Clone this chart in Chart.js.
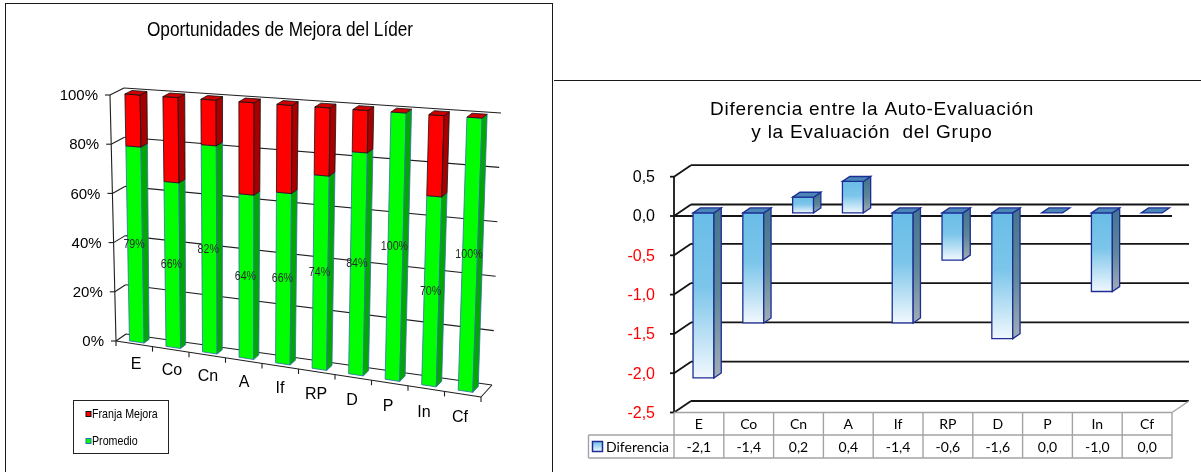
<!DOCTYPE html>
<html>
<head>
<meta charset="utf-8">
<script src="https://cdn.jsdelivr.net/npm/chart.js@4.4.1/dist/chart.umd.min.js"></script>
<style>
  html, body { margin: 0; padding: 0; background: #ffffff; width: 1201px; height: 472px; overflow: hidden; }
  #frameL { position: absolute; left: 5px; top: 3px; width: 548px; height: 520px; border: 1px solid #1a1a1a; box-sizing: border-box; }
  #frameR { position: absolute; left: 554px; top: 80px; width: 647px; height: 0; border-top: 1px solid #1a1a1a; }
  #cL { position: absolute; left: 0; top: 0; }
  #cR { position: absolute; left: 555px; top: 0; }
</style>
</head>
<body>
<div id="frameL"></div>
<div id="frameR"></div>
<canvas id="cL" width="554" height="472" style="width:554px;height:472px"></canvas>
<canvas id="cR" width="646" height="472" style="width:646px;height:472px"></canvas>
<script>
// ---- data ----
const categories = ['E', 'Co', 'Cn', 'A', 'If', 'RP', 'D', 'P', 'In', 'Cf'];
const promedio = [79, 66, 82, 64, 66, 74, 84, 100, 70, 100];
const franjaMejora = [21, 34, 18, 36, 34, 26, 16, 0, 30, 0];
const percentTicks = [0, 20, 40, 60, 80, 100];
const diferencia = [-2.1, -1.4, 0.2, 0.4, -1.4, -0.6, -1.6, 0.0, -1.0, 0.0];
const diferenciaTicks = [0.5, 0.0, -0.5, -1.0, -1.5, -2.0, -2.5];

// ---- fonts ----
const ARIAL = "'Liberation Sans',Arial,sans-serif";
const TABLE_FONT = "Lato,'Open Sans',sans-serif";

function strokeLine(ctx, p, q) {
  ctx.beginPath();
  ctx.moveTo(p[0], p[1]);
  ctx.lineTo(q[0], q[1]);
  ctx.stroke();
}
function poly(ctx, pts, fill, stroke, lw) {
  ctx.beginPath();
  ctx.moveTo(pts[0][0], pts[0][1]);
  for (let i = 1; i < pts.length; i++) ctx.lineTo(pts[i][0], pts[i][1]);
  ctx.closePath();
  ctx.fillStyle = fill;
  ctx.fill();
  if (stroke) { ctx.lineWidth = lw; ctx.strokeStyle = stroke; ctx.stroke(); }
}
// condensed sans text: horizontally compressed Liberation Sans
function narrowText(ctx, text, x, y, size, align) {
  ctx.save();
  ctx.translate(x, y);
  ctx.scale(0.82, 1);
  ctx.font = size + 'px ' + ARIAL;
  ctx.textAlign = align;
  ctx.fillText(text, 0, 0);
  ctx.restore();
}
const fmtComma = v => v.toFixed(1).replace('.', ',');

// ============ Left chart: 3D stacked percentage columns ============
// Perspective frame: front plane and back wall corners (u: category axis, v: value axis)
const frontQuad = { l0: [116, 341], l1: [110, 95], r0: [481, 397], r1: [491, 121] };
const backQuad  = { l0: [126, 334], l1: [124, 88], r0: [492, 385], r1: [501, 113] };
function project(u, v, d) {
  const c = k => [frontQuad[k][0] + (backQuad[k][0] - frontQuad[k][0]) * d,
                  frontQuad[k][1] + (backQuad[k][1] - frontQuad[k][1]) * d];
  const l0 = c('l0'), l1 = c('l1'), r0 = c('r0'), r1 = c('r1');
  const bx = l0[0] + (r0[0] - l0[0]) * u, by = l0[1] + (r0[1] - l0[1]) * u;
  const tx = l1[0] + (r1[0] - l1[0]) * u, ty = l1[1] + (r1[1] - l1[1]) * u;
  return [bx + (tx - bx) * v, by + (ty - by) * v];
}
const BAR_FRONT = 0.25, BAR_BACK = 0.75;

const shadesL = {
  Promedio: { front: '#00ff00', side: '#00a800', top: '#00d400', edge: '#2f6fae' },
  'Franja Mejora': { front: '#ff0000', side: '#a80000', top: '#d00000', edge: '#111111' }
};

const leftPerspective = {
  id: 'leftPerspective',
  beforeDatasetsDraw() { return false; },
  afterDraw(chart) {
    const ctx = chart.ctx, a = chart.chartArea, ys = chart.scales.y;
    const U = px => (px - a.left) / (a.right - a.left);
    const V = py => (a.bottom - py) / (a.bottom - a.top);
    ctx.save();

    // title
    ctx.fillStyle = '#000';
    ctx.textBaseline = 'middle';
    narrowText(ctx, 'Oportunidades de Mejora del Líder', 280, 30, 21, 'center');

    // walls, gridlines, value axis
    ctx.strokeStyle = '#1e1e1e';
    ctx.lineWidth = 1.1;
    percentTicks.forEach(t => {
      const v = V(ys.getPixelForValue(t));
      strokeLine(ctx, project(0, v, 0), project(0, v, 1));
      strokeLine(ctx, project(0, v, 1), project(1, v, 1));
      const p = project(0, v, 0);
      strokeLine(ctx, [p[0] - 5, p[1]], p);
    });
    strokeLine(ctx, project(0, 0, 0), project(0, 1, 0));
    strokeLine(ctx, project(0, 0, 0), project(1, 0, 0));
    strokeLine(ctx, project(1, 0, 0), project(1, 0, 1));
    for (let k = 0; k <= categories.length; k++) {
      const p = project(k / categories.length, 0, 0);
      strokeLine(ctx, p, [p[0], p[1] + 5]);
    }

    // columns
    const metas = chart.data.datasets.map((ds, i) => chart.getDatasetMeta(i));
    categories.forEach((c, i) => {
      metas.forEach((meta, di) => {
        const ds = chart.data.datasets[di];
        const col = shadesL[ds.label];
        const el = meta.data[i].getProps(['x', 'y', 'base', 'width'], true);
        const u0 = U(el.x - el.width / 2), u1 = U(el.x + el.width / 2);
        const v0 = V(el.base), v1 = V(el.y);
        const isTop = di === metas.length - 1;
        if (v1 - v0 > 1e-6) {
          poly(ctx, [project(u0, v0, BAR_FRONT), project(u1, v0, BAR_FRONT), project(u1, v1, BAR_FRONT), project(u0, v1, BAR_FRONT)], col.front, col.edge, 0.8);
          poly(ctx, [project(u1, v0, BAR_FRONT), project(u1, v0, BAR_BACK), project(u1, v1, BAR_BACK), project(u1, v1, BAR_FRONT)], col.side, col.edge, 0.8);
        }
        if (isTop) {
          poly(ctx, [project(u0, v1, BAR_FRONT), project(u1, v1, BAR_FRONT), project(u1, v1, BAR_BACK), project(u0, v1, BAR_BACK)], col.top, col.edge, 0.8);
        }
      });
    });

    // value labels on the Promedio segment
    ctx.fillStyle = '#2a2a2a';
    ctx.textBaseline = 'middle';
    metas[0].data.forEach((bar, i) => {
      const el = bar.getProps(['x', 'y', 'base'], true);
      const p = project(U(el.x), (V(el.base) + V(el.y)) / 2, BAR_FRONT);
      narrowText(ctx, promedio[i] + '%', p[0] - 1, p[1], 13, 'center');
    });

    // value axis labels
    ctx.font = '15px ' + ARIAL;
    ctx.fillStyle = '#000';
    ctx.textAlign = 'right';
    percentTicks.forEach(t => {
      const p = project(0, V(ys.getPixelForValue(t)), 0);
      ctx.fillText(t + '%', p[0] - 12, p[1] + 1);
    });

    // category labels
    ctx.font = '16px ' + ARIAL;
    ctx.textAlign = 'center';
    const xs = chart.scales.x;
    categories.forEach((c, i) => {
      const u = U(xs.getPixelForValue(i));
      const p = project(u, 0, 0);
      ctx.fillText(c, p[0] + 2 - 5 * u, p[1] + 21 + 3 * u);
    });

    // legend box
    ctx.strokeStyle = '#222';
    ctx.lineWidth = 1;
    ctx.strokeRect(73.5, 400.5, 95, 53);
    const order = chart.data.datasets.slice().reverse();
    order.forEach((ds, k) => {
      const y = 414.5 + k * 27;
      const col = shadesL[ds.label];
      ctx.fillStyle = col.front;
      ctx.fillRect(86, y - 3, 5, 5);
      ctx.strokeStyle = col.edge;
      ctx.strokeRect(86, y - 3, 5, 5);
      ctx.fillStyle = '#000';
      narrowText(ctx, ds.label, 92, y, 13, 'left');
    });
    ctx.restore();
  }
};

new Chart(document.getElementById('cL'), {
  type: 'bar',
  data: {
    labels: categories,
    datasets: [
      { label: 'Promedio', data: promedio, backgroundColor: '#00ff00', borderColor: '#2f6fae', stack: 'lider', barPercentage: 0.4, categoryPercentage: 1 },
      { label: 'Franja Mejora', data: franjaMejora, backgroundColor: '#ff0000', borderColor: '#111111', stack: 'lider', barPercentage: 0.4, categoryPercentage: 1 }
    ]
  },
  options: {
    responsive: false,
    animation: false,
    events: [],
    layout: { padding: { left: 120, right: 60, top: 90, bottom: 110 } },
    plugins: { legend: { display: false }, title: { display: false }, tooltip: { enabled: false } },
    scales: {
      x: { stacked: true, display: false },
      y: { stacked: true, display: false, min: 0, max: 100 }
    }
  },
  plugins: [leftPerspective]
});

// ============ Right chart: 3D columns with data table ============
const DEPTH_X = 17, DEPTH_Y = -11.5;
const oblique = (x, y, d) => [x + DEPTH_X * d, y + DEPTH_Y * d];
const COL_FRONT = 0.27, COL_BACK = 0.7;

const rightOblique = {
  id: 'rightOblique',
  beforeDatasetsDraw() { return false; },
  afterDraw(chart) {
    const ctx = chart.ctx, a = chart.chartArea, ys = chart.scales.y, xs = chart.scales.x;
    ctx.save();

    // title
    ctx.fillStyle = '#000';
    ctx.font = '19px ' + ARIAL;
    ctx.textAlign = 'center';
    ctx.textBaseline = 'middle';
    if ('letterSpacing' in ctx) ctx.letterSpacing = '0.75px';
    ctx.fillText('Diferencia entre la Auto-Evaluación', 317, 110);
    ctx.fillText('y la Evaluación  del Grupo', 317, 133);
    if ('letterSpacing' in ctx) ctx.letterSpacing = '0px';

    // walls and gridlines
    ctx.strokeStyle = '#141414';
    ctx.lineWidth = 1.8;
    diferenciaTicks.forEach(t => {
      const y = ys.getPixelForValue(t);
      strokeLine(ctx, oblique(a.left, y, 0), oblique(a.left, y, 1));
      strokeLine(ctx, oblique(a.left, y, 1), oblique(a.right, y, 1));
      strokeLine(ctx, [a.left - 4, y], [a.left, y]);
    });
    strokeLine(ctx, [a.left, a.top], [a.left, a.bottom]);
    const y0 = ys.getPixelForValue(0);
    strokeLine(ctx, [a.left, y0], [a.right, y0]);

    // columns
    const meta = chart.getDatasetMeta(0);
    const edge = '#1c2e95';
    meta.data.forEach(bar => {
      const el = bar.getProps(['x', 'y', 'base', 'width'], true);
      const l = el.x - el.width / 2, r = el.x + el.width / 2;
      const top = Math.min(el.y, el.base), bot = Math.max(el.y, el.base);
      if (bot - top > 0.5) {
        const fTop = oblique(l, top, COL_FRONT), fBot = oblique(l, bot, COL_FRONT);
        const gf = ctx.createLinearGradient(0, fTop[1], 0, fBot[1]);
        gf.addColorStop(0, '#69bde7');
        gf.addColorStop(0.45, '#7cc5ea');
        gf.addColorStop(1, '#f1f8fd');
        poly(ctx, [oblique(l, top, COL_FRONT), oblique(r, top, COL_FRONT), oblique(r, bot, COL_FRONT), oblique(l, bot, COL_FRONT)], gf, edge, 1.3);
        const gs = ctx.createLinearGradient(0, fTop[1], 0, fBot[1]);
        gs.addColorStop(0, '#46778f');
        gs.addColorStop(0.5, '#5f8799');
        gs.addColorStop(1, '#a2adb7');
        poly(ctx, [oblique(r, top, COL_FRONT), oblique(r, top, COL_BACK), oblique(r, bot, COL_BACK), oblique(r, bot, COL_FRONT)], gs, edge, 1.3);
      }
      poly(ctx, [oblique(l, top, COL_FRONT), oblique(r, top, COL_FRONT), oblique(r, top, COL_BACK), oblique(l, top, COL_BACK)], '#4a86b6', edge, 1.3);
    });

    // value axis labels
    ctx.font = '16px ' + ARIAL;
    ctx.textAlign = 'right';
    diferenciaTicks.forEach(t => {
      ctx.fillStyle = t < 0 ? '#ff0000' : '#000000';
      ctx.fillText(fmtComma(t), a.left - 19, ys.getPixelForValue(t) + 1);
    });

    // data table under the plot
    const slot = (a.right - a.left) / categories.length;
    const rowTop = a.bottom, rowMid = rowTop + 22.5, rowBot = rowMid + 23;
    const keyLeft = 33.5;
    ctx.strokeStyle = '#a3a3a3';
    ctx.lineWidth = 1.4;
    strokeLine(ctx, [a.left, rowTop], [a.right, rowTop]);
    strokeLine(ctx, oblique(a.right, rowTop, 0), oblique(a.right, rowTop, 1));
    strokeLine(ctx, [keyLeft, rowMid], [a.right, rowMid]);
    strokeLine(ctx, [keyLeft, rowBot], [a.right, rowBot]);
    strokeLine(ctx, [keyLeft, rowMid], [keyLeft, rowBot]);
    for (let k = 0; k <= categories.length; k++) {
      const x = a.left + k * slot;
      strokeLine(ctx, [x, rowTop], [x, rowBot]);
    }
    ctx.font = '14px ' + TABLE_FONT;
    ctx.fillStyle = '#000';
    ctx.textAlign = 'center';
    categories.forEach((c, i) => {
      const cx = xs.getPixelForValue(i);
      ctx.fillText(c, cx, (rowTop + rowMid) / 2 + 1);
      ctx.fillText(fmtComma(diferencia[i]), cx, (rowMid + rowBot) / 2 + 1);
    });
    // series key
    const kg = ctx.createLinearGradient(0, rowMid + 6, 0, rowMid + 16);
    kg.addColorStop(0, '#69bde7');
    kg.addColorStop(1, '#e8f4fc');
    ctx.fillStyle = kg;
    ctx.fillRect(37.5, rowMid + 6.5, 10, 10);
    ctx.strokeStyle = edge;
    ctx.lineWidth = 1.5;
    ctx.strokeRect(37.5, rowMid + 6.5, 10, 10);
    ctx.fillStyle = '#000';
    ctx.textAlign = 'left';
    ctx.fillText(chart.data.datasets[0].label, 51, (rowMid + rowBot) / 2 + 1);
    ctx.restore();
  }
};

new Chart(document.getElementById('cR'), {
  type: 'bar',
  data: {
    labels: categories,
    datasets: [
      { label: 'Diferencia', data: diferencia, backgroundColor: '#69bde7', borderColor: '#1c2e95', barPercentage: 0.42, categoryPercentage: 1 }
    ]
  },
  options: {
    responsive: false,
    animation: false,
    events: [],
    layout: { padding: { left: 119, right: 29, top: 176.7, bottom: 59.5 } },
    plugins: { legend: { display: false }, title: { display: false }, tooltip: { enabled: false } },
    scales: {
      x: { display: false },
      y: { display: false, min: -2.5, max: 0.5 }
    }
  },
  plugins: [rightOblique]
});
</script>
</body>
</html>
